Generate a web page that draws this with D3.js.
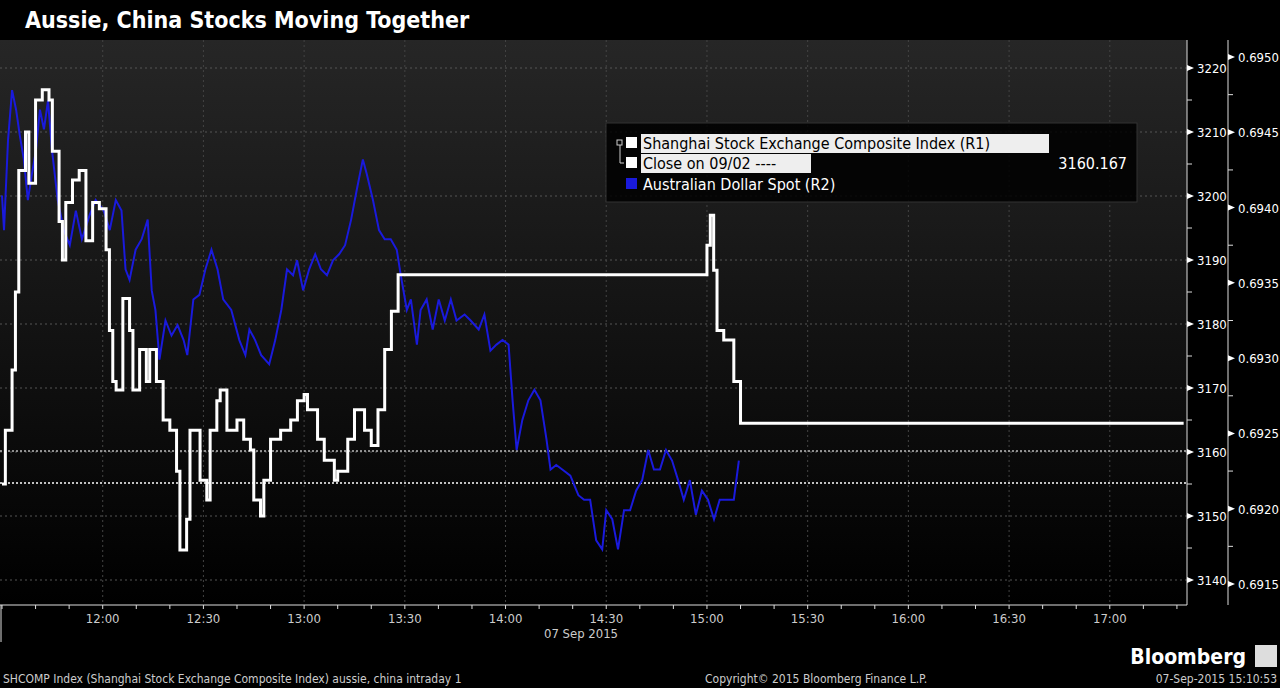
<!DOCTYPE html>
<html><head><meta charset="utf-8">
<script src="https://cdn.jsdelivr.net/npm/d3@7"></script>
<style>body{margin:0;background:#000;overflow:hidden}text{font-family:"DejaVu Sans Condensed","DejaVu Sans",sans-serif}</style>
</head><body><div id="chart"></div>
<script>
// minutes after 11:30 on 07 Sep 2015
let shTimes = [0,1,3,4,5,7,8,10,12,14,15,17,18,19,21,23,25,27,29,31,32,33,34,36,38,39,41,43,44,46,48,50,52,53,55,56,59,61,62,64,65,67,70,72,74,75,77,78,80,83,86,88,90,91,94,96,99,100,103,105,108,110,112,114,116,118,119,209,210,211,212,213,215,217,218,220,352];
let shValues = [3155,3163.4,3172.8,3185,3204,3210,3202,3215,3216.6,3215,3207,3196,3190,3199,3202.5,3204,3193,3199,3198,3191.6,3179,3171,3169.7,3184,3179,3169.7,3176,3171,3176,3171,3165,3163.4,3157,3144.7,3149.5,3163.4,3155.6,3152.5,3163.4,3168,3169.7,3163.4,3165,3162,3160.3,3152.5,3150,3155.6,3162,3163.4,3165,3168,3169,3166.6,3162,3158.7,3155.6,3157,3162,3166.6,3163.4,3161,3166.6,3176,3182,3187.7,3187.7,3187.7,3192.3,3197,3188.4,3179,3177.5,3177.5,3171,3164.5,3164.5];
let audTimes = [0,0.6,1.8,3,4.2,5.3,6.5,7.7,8.9,10.1,11.3,12.5,13.7,14.9,16.6,18.4,20.2,22,23.8,26.1,27.9,30.3,32.1,33.9,35.6,36.8,38,39.8,41.6,43.4,44.6,45.7,46.9,48.7,50.5,52.3,54.1,55.2,57,58.8,60.6,62.4,64.2,65.9,68.3,70.7,72.5,73.7,75.4,77.2,79.6,81.4,83.2,84.9,86.7,87.9,89.7,91.5,93.3,95,96.8,98.6,100.4,102.2,104,105.7,107.5,108.7,110.5,112.3,114,115.8,117.6,118.8,120.6,121.8,123.6,124.7,126.5,128.3,130.1,131.9,133.7,135.4,137.8,139.6,142,143.7,145.5,147.3,149.1,150.9,152.1,153.3,155,156.8,158.6,160.4,162.2,163.4,165.1,166.9,169.3,171.7,173.4,175.2,177,178.8,180,181.8,183.5,185.3,187.1,188.9,190.7,192.5,194.2,196,197.8,199.6,201.4,203.1,204.9,206.7,208.5,210.3,212.1,213.8,216.2,218,219.5];
let audValues = [0.69408,0.69385,0.69445,0.69478,0.69465,0.69448,0.69432,0.69405,0.69422,0.69438,0.69465,0.69452,0.69471,0.69438,0.69405,0.69385,0.69375,0.69398,0.69379,0.69395,0.69405,0.69398,0.69385,0.69405,0.69398,0.69359,0.69352,0.69372,0.69379,0.69392,0.69345,0.69332,0.69299,0.69325,0.69315,0.69322,0.69312,0.69302,0.69339,0.69342,0.69359,0.69372,0.69359,0.69339,0.69332,0.69312,0.69302,0.69319,0.69312,0.69302,0.69296,0.69312,0.69332,0.69359,0.69355,0.69365,0.69345,0.69359,0.69369,0.69359,0.69355,0.69365,0.69369,0.69375,0.69392,0.69412,0.69432,0.69422,0.69405,0.69385,0.69379,0.69379,0.69372,0.69355,0.69332,0.69339,0.69309,0.69332,0.69339,0.69319,0.69339,0.69325,0.69339,0.69325,0.69329,0.69325,0.69319,0.69329,0.69305,0.69309,0.69312,0.69309,0.69272,0.69239,0.69259,0.69272,0.69279,0.69272,0.69246,0.69226,0.69229,0.69226,0.69222,0.69209,0.69206,0.69206,0.69179,0.69173,0.69199,0.69193,0.69173,0.69199,0.69199,0.69212,0.69219,0.69239,0.69226,0.69226,0.69239,0.69232,0.69219,0.69206,0.69219,0.69196,0.69212,0.69206,0.69193,0.69206,0.69206,0.69206,0.69232];
let shPrevClose = 3160.167;
let audPrevClose = 0.69217;
let r1Ticks = [3140,3150,3160,3170,3180,3190,3200,3210,3220];
let r2Ticks = [0.6915,0.6920,0.6925,0.6930,0.6935,0.6940,0.6945,0.6950];
let timeTicks = ["12:00","12:30","13:00","13:30","14:00","14:30","15:00","15:30","16:00","16:30","17:00"];

let W = 1280, H = 688, plotTop = 40, plotBottom = 605, plotRight = 1187;
let svg = d3.select("#chart").append("svg").attr("width", W).attr("height", H);
let defs = svg.append("defs");
let g = defs.append("linearGradient").attr("id","bg").attr("x1",0).attr("y1",0).attr("x2",0).attr("y2",1);
g.append("stop").attr("offset","0%").attr("stop-color","#262626");
g.append("stop").attr("offset","100%").attr("stop-color","#000");
svg.append("rect").attr("x",0).attr("y",plotTop).attr("width",plotRight).attr("height",plotBottom-plotTop).attr("fill","url(#bg)");

let t0 = new Date(2015,8,7,11,30);
let toDate = m => new Date(t0.getTime() + m*60000);
let x = d3.scaleTime().domain([t0, toDate(353)]).range([2, plotRight]);
let y1 = d3.scaleLinear().domain([3140,3220]).range([580,68]);
let y2 = d3.scaleLinear().domain([0.6915,0.6950]).range([584,57]);
let parseT = s => { let p = s.split(":"); return new Date(2015,8,7,+p[0],+p[1]); };

// grid
svg.append("g").selectAll("line").data(r1Ticks).enter().append("line")
  .attr("x1",0).attr("x2",plotRight).attr("y1",d=>y1(d)).attr("y2",d=>y1(d))
  .attr("stroke","#555").attr("stroke-dasharray","2,3");
svg.append("g").selectAll("line").data(timeTicks).enter().append("line")
  .attr("x1",d=>x(parseT(d))).attr("x2",d=>x(parseT(d))).attr("y1",plotTop).attr("y2",plotBottom)
  .attr("stroke","#444").attr("stroke-dasharray","2,3");

// previous close lines
svg.append("line").attr("x1",0).attr("x2",plotRight).attr("y1",y1(shPrevClose)).attr("y2",y1(shPrevClose))
  .attr("stroke","#bbb").attr("stroke-width",1.5).attr("stroke-dasharray","2,2");
svg.append("line").attr("x1",0).attr("x2",plotRight).attr("y1",y2(audPrevClose)).attr("y2",y2(audPrevClose))
  .attr("stroke","#fff").attr("stroke-width",1.5).attr("stroke-dasharray","2,2");

// series
let aud = audTimes.map((t,i)=>[toDate(t), audValues[i]]);
let sh = shTimes.map((t,i)=>[toDate(t), shValues[i]]);
svg.append("path").attr("d", d3.line().x(d=>x(d[0])).y(d=>y2(d[1]))(aud))
  .attr("fill","none").attr("stroke","#1a1adc").attr("stroke-width",2);
svg.append("path").attr("d", d3.line().x(d=>x(d[0])).y(d=>y1(d[1])).curve(d3.curveStepAfter)(sh))
  .attr("fill","none").attr("stroke","#fff").attr("stroke-width",3);

// axes
let tri = (sel, yf, xa) => sel.append("path").attr("d", d=>`M${xa},${yf(d)-3}L${xa+7},${yf(d)}L${xa},${yf(d)+3}Z`).attr("fill","#fff");
svg.append("line").attr("x1",plotRight).attr("x2",plotRight).attr("y1",plotTop).attr("y2",plotBottom).attr("stroke","#ddd");
svg.append("line").attr("x1",1228).attr("x2",1228).attr("y1",plotTop).attr("y2",plotBottom).attr("stroke","#ddd");
svg.append("line").attr("x1",0).attr("x2",plotRight).attr("y1",plotBottom).attr("y2",plotBottom).attr("stroke","#ddd");
svg.append("line").attr("x1",1).attr("x2",1).attr("y1",plotBottom).attr("y2",642).attr("stroke","#ddd");
let r1 = svg.append("g").selectAll("g").data(r1Ticks).enter().append("g");
tri(r1, y1, plotRight);
r1.append("text").attr("x",1197).attr("y",d=>y1(d)+5).attr("fill","#fff").attr("font-size",13).text(d=>d);
svg.append("g").selectAll("line").data(d3.range(3145,3220,10)).enter().append("line")
  .attr("x1",plotRight).attr("x2",plotRight+5).attr("y1",d=>y1(d)).attr("y2",d=>y1(d)).attr("stroke","#ddd");
let r2 = svg.append("g").selectAll("g").data(r2Ticks).enter().append("g");
tri(r2, y2, 1228);
r2.append("text").attr("x",1238).attr("y",d=>y2(d)+5).attr("fill","#fff").attr("font-size",13).text(d=>d.toFixed(4));
svg.append("g").selectAll("line").data(d3.range(0.69175,0.695,0.0005)).enter().append("line")
  .attr("x1",1228).attr("x2",1233).attr("y1",d=>y2(d)).attr("y2",d=>y2(d)).attr("stroke","#ddd");
svg.append("g").selectAll("text").data(timeTicks).enter().append("text")
  .attr("x",d=>x(parseT(d))).attr("y",623).attr("text-anchor","middle").attr("fill","#ccc").attr("font-size",13).text(d=>d);
svg.append("g").selectAll("line").data(d3.range(0,353,10)).enter().append("line")
  .attr("x1",d=>x(toDate(d))).attr("x2",d=>x(toDate(d))).attr("y1",plotBottom).attr("y2",plotBottom+4).attr("stroke","#ddd");
svg.append("text").attr("x",581).attr("y",638).attr("text-anchor","middle").attr("fill","#ccc").attr("font-size",13).text("07 Sep 2015");

// legend
let lg = svg.append("g");
lg.append("rect").attr("x",606).attr("y",123).attr("width",531).attr("height",79).attr("fill","#000").attr("fill-opacity",0.85).attr("stroke","#333");
lg.append("rect").attr("x",641).attr("y",134).attr("width",408).attr("height",19).attr("fill","#eee");
lg.append("rect").attr("x",641).attr("y",154).attr("width",170).attr("height",19).attr("fill","#eee");
lg.append("rect").attr("x",626).attr("y",137).attr("width",11).attr("height",11).attr("fill","#fff");
lg.append("rect").attr("x",626).attr("y",157).attr("width",11).attr("height",11).attr("fill","#fff");
lg.append("rect").attr("x",626).attr("y",178).attr("width",11).attr("height",11).attr("fill","#1a1adc");
lg.append("path").attr("d","M620,145V163H624").attr("stroke","#ccc").attr("fill","none");
lg.append("rect").attr("x",617).attr("y",140).attr("width",5).attr("height",5).attr("fill","none").attr("stroke","#ccc");
lg.append("text").attr("x",643).attr("y",149).attr("font-size",16).attr("fill","#000").text("Shanghai Stock Exchange Composite Index  (R1)");
lg.append("text").attr("x",643).attr("y",169).attr("font-size",16).attr("fill","#000").text("Close on 09/02 ----");
lg.append("text").attr("x",1127).attr("y",169).attr("text-anchor","end").attr("font-size",16).attr("fill","#fff").text(shPrevClose.toFixed(3));
lg.append("text").attr("x",643).attr("y",190).attr("font-size",16).attr("fill","#fff").text("Australian Dollar Spot  (R2)");

// title and footer
svg.append("text").attr("x",25).attr("y",28).attr("fill","#fff").attr("font-size",23).attr("font-weight","bold")
  .attr("font-family","Open Sans, sans-serif").text("Aussie, China Stocks Moving Together");
svg.append("text").attr("x",3).attr("y",683).attr("fill","#ccc").attr("font-size",12).text("SHCOMP Index (Shanghai Stock Exchange Composite Index) aussie, china intraday 1");
svg.append("text").attr("x",705).attr("y",683).attr("fill","#ccc").attr("font-size",12).text("Copyright© 2015 Bloomberg Finance L.P.");
svg.append("text").attr("x",1277).attr("y",683).attr("text-anchor","end").attr("fill","#ccc").attr("font-size",12).text("07-Sep-2015 15:10:53");
svg.append("text").attr("x",1246).attr("y",664).attr("text-anchor","end").attr("fill","#fff").attr("font-size",21).attr("font-weight","bold")
  .attr("font-family","Liberation Sans, sans-serif").text("Bloomberg");
svg.append("rect").attr("x",1255).attr("y",645).attr("width",22).attr("height",22).attr("fill","#ddd");
</script></body></html>
